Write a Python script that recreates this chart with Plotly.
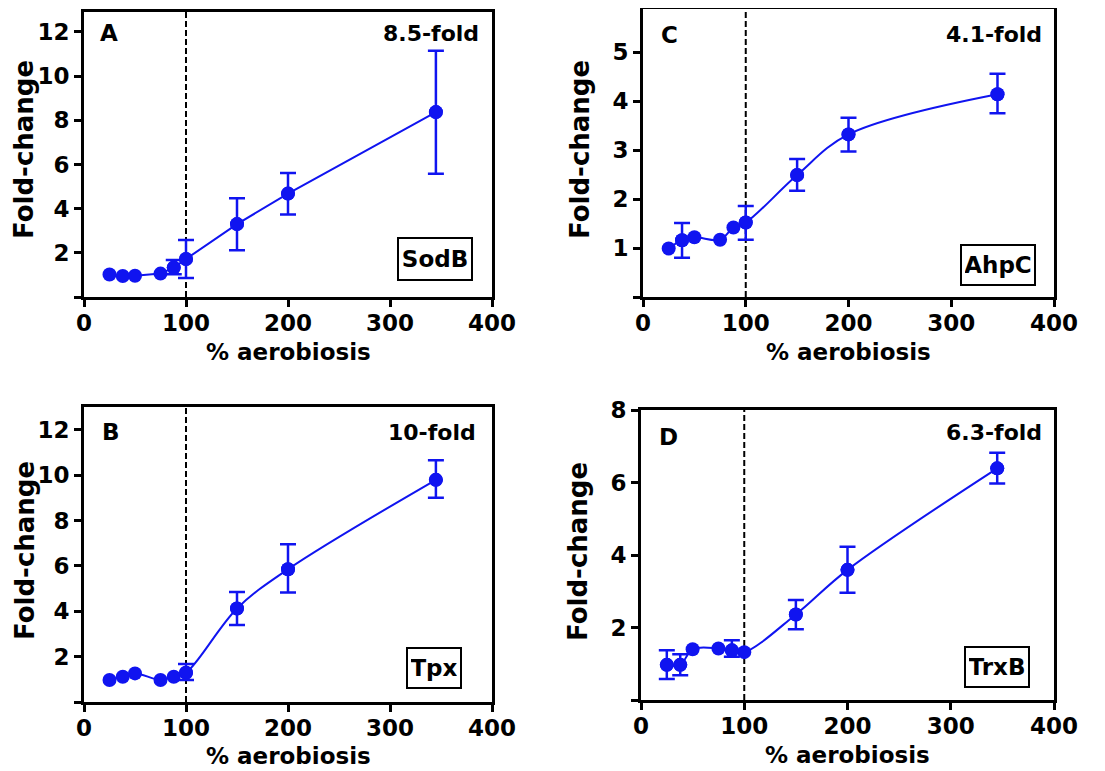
import numpy as np
import plotly.graph_objects as go

# ---------------- data ----------------
x_pct = [25, 38, 50, 75, 88, 100, 150, 200, 345]

sodb = [1.02, 0.95, 0.96, 1.06, 1.33, 1.72, 3.30, 4.68, 8.37]
sodb_up = [0, 0, 0, 0, 0.34, 0.86, 1.17, 0.93, 2.78]
sodb_dn = [0, 0, 0, 0, 0.30, 0.86, 1.18, 0.95, 2.79]

tpx = [0.97, 1.11, 1.26, 0.97, 1.11, 1.29, 4.12, 5.85, 9.79]
tpx_up = [0, 0, 0, 0, 0, 0.38, 0.73, 1.10, 0.86]
tpx_dn = [0, 0, 0, 0, 0, 0.32, 0.73, 1.03, 0.79]

ahpc = [0.99, 1.16, 1.22, 1.17, 1.42, 1.52, 2.49, 3.32, 4.14]
ahpc_up = [0, 0.35, 0, 0, 0, 0.34, 0.33, 0.34, 0.42]
ahpc_dn = [0, 0.36, 0, 0, 0, 0.35, 0.32, 0.35, 0.39]

trxb = [0.97, 0.97, 1.40, 1.42, 1.37, 1.32, 2.36, 3.59, 6.39]
trxb_up = [0.40, 0.29, 0, 0, 0.28, 0, 0.40, 0.64, 0.43]
trxb_dn = [0.39, 0.29, 0, 0, 0.18, 0, 0.41, 0.63, 0.42]

x_ticks = [0, 100, 200, 300, 400]

panels = [
    # letter, protein, fold text, y, up, dn, axis suffix, y ticks, y max, line shape
    ("A", "SodB", "8.5-fold", sodb, sodb_up, sodb_dn, "", [0, 2, 4, 6, 8, 10, 12], 12.9, "linear"),
    ("C", "AhpC", "4.1-fold", ahpc, ahpc_up, ahpc_dn, "2", [0, 1, 2, 3, 4, 5], 5.88, "spline"),
    ("B", "Tpx", "10-fold", tpx, tpx_up, tpx_dn, "3", [0, 2, 4, 6, 8, 10, 12], 13.0, "spline"),
    ("D", "TrxB", "6.3-fold", trxb, trxb_up, trxb_dn, "4", [0, 2, 4, 6, 8], 8.0, "spline"),
]

# the page body has an 8 px margin: the figure is drawn 8 px right / down
OFF = 8
FW, FH = 1105 - OFF, 771 - OFF


def px(x):
    return (x - OFF) / FW


def py(y):
    return 1 - (y - OFF) / FH


# layout in screen pixels
geo = {
    #      frame l, r, t, b        ytitle(x,y)   xtitle y  letter(x,y)  fold(x,y)   box(cx,cy,w,h)
    "A": ((84, 492, 12, 297), (24, 150), 352, (98, 33), (481, 33), (435, 259, 66, 34)),
    "C": ((643, 1054, 9, 297), (580, 150), 352, (659, 35), (1044, 35), (998, 265, 66, 32)),
    "B": ((84, 492, 407, 702), (25, 551), 756, (100, 432), (478, 432), (434, 668, 46, 32)),
    "D": ((641, 1054, 410, 700), (578, 552), 755, (657, 437), (1044, 432), (997, 667, 56, 32)),
}

BLUE = "rgb(16,20,240)"
FONT = "DejaVu Sans"


def bold(size):
    return dict(family=FONT, size=size, color="black", weight="bold")


fig = go.Figure()
layout = dict(
    width=FW, height=FH,
    margin=dict(l=0, r=0, t=0, b=0, autoexpand=False),
    paper_bgcolor="white", plot_bgcolor="white",
    showlegend=False,
    font=bold(22),
    shapes=[], annotations=[],
)

for letter, prot, fold, yv, up, dn, sfx, yt, ymax, shape in panels:
    (l, r, t, b), (ytx, yty), xty, (lx, ly), (fx, fy), (bx, by, bw, bh) = geo[letter]
    xa = "x" + sfx
    ya = "y" + sfx
    fig.add_trace(go.Scatter(
        x=x_pct, y=yv, xaxis=xa, yaxis=ya, mode="lines+markers",
        line=dict(color=BLUE, width=2, shape=shape, smoothing=1.0),
        marker=dict(color=BLUE, size=14),
        hoverinfo="skip",
    ))
    up_a = np.array(up, dtype=float)
    dn_a = np.array(dn, dtype=float)
    mask = (up_a > 0) | (dn_a > 0)
    fig.add_trace(go.Scatter(
        x=np.array(x_pct)[mask], y=np.array(yv)[mask], xaxis=xa, yaxis=ya,
        mode="markers",
        marker=dict(color=BLUE, size=14),
        error_y=dict(type="data", symmetric=False, array=up_a[mask],
                     arrayminus=dn_a[mask], color=BLUE, thickness=2.5, width=8),
        hoverinfo="skip",
    ))
    axis_common = dict(
        showline=True, linecolor="black", linewidth=3, mirror=True,
        ticks="outside", ticklen=7, tickwidth=3, tickcolor="black",
        showgrid=False, zeroline=False, automargin=False,
        tickfont=bold(23),
    )
    layout["xaxis" + sfx] = dict(
        axis_common, domain=[px(l), px(r)], range=[0, 400],
        tickvals=x_ticks, anchor=ya, ticklabelstandoff=-4,
    )
    layout["yaxis" + sfx] = dict(
        axis_common, domain=[py(b), py(t)], range=[0, ymax],
        tickvals=yt, ticktext=[""] + [str(v) for v in yt[1:]], anchor=xa,
    )
    # axis titles
    layout["annotations"].append(dict(
        text="Fold-change", xref="paper", yref="paper", x=px(ytx), y=py(yty),
        xanchor="center", yanchor="middle", textangle=-90, showarrow=False,
        font=bold(26),
    ))
    layout["annotations"].append(dict(
        text="% aerobiosis", xref="paper", yref="paper", x=px((l + r) / 2), y=py(xty),
        xanchor="center", yanchor="middle", showarrow=False, font=bold(23),
    ))
    # dashed reference line at 100 % aerobiosis
    layout["shapes"].append(dict(
        type="line", xref=xa, yref=ya + " domain", x0=100, x1=100, y0=0, y1=1,
        line=dict(color="black", width=2, dash="6px,3px"), layer="below",
    ))
    # panel letter
    layout["annotations"].append(dict(
        text=letter, xref="paper", yref="paper", x=px(lx), y=py(ly),
        xanchor="left", yanchor="middle", showarrow=False, font=bold(23),
    ))
    # fold change label
    layout["annotations"].append(dict(
        text=fold, xref="paper", yref="paper", x=px(fx), y=py(fy),
        xanchor="right", yanchor="middle", showarrow=False, font=bold(22),
    ))
    # protein name in a box
    layout["annotations"].append(dict(
        text=prot, xref="paper", yref="paper", x=px(bx), y=py(by),
        xanchor="center", yanchor="middle", width=bw, height=bh,
        showarrow=False, bordercolor="black", borderwidth=2, borderpad=3,
        bgcolor="white", font=bold(23),
    ))

fig.update_layout(**layout)
fig.write_html("out.html")
